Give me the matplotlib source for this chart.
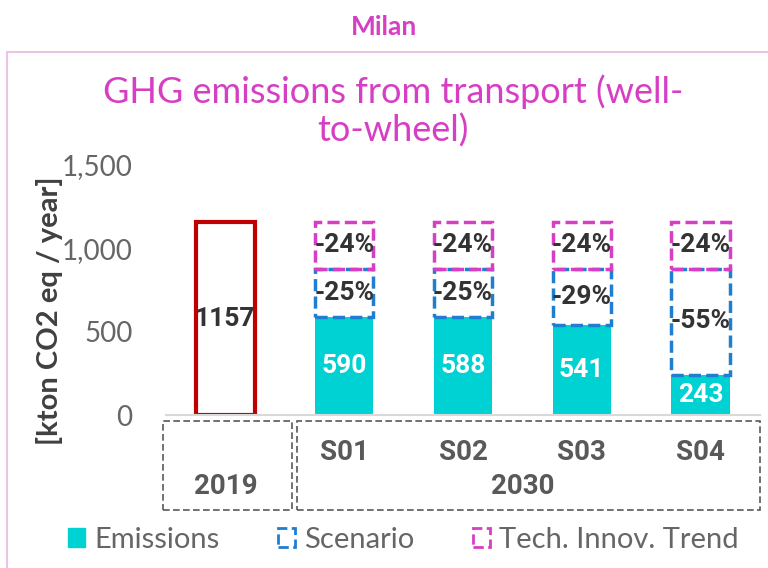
import matplotlib
matplotlib.use("Agg")
import matplotlib.pyplot as plt
from matplotlib.patches import Patch, Rectangle
import numpy as np

# data
categories = ["2019", "S01", "S02", "S03", "S04"]
groups = ["2019", "2030"]
baseline = 1157
emissions = [590, 588, 541, 243]
scenario = [289, 291, 338, 636]
tech = [278, 278, 278, 278]
scenario_lbl = ["-25%", "-25%", "-29%", "-55%"]
tech_lbl = ["-24%", "-24%", "-24%", "-24%"]

CYAN = "#00D2D3"
BLUE = "#1F7ED0"
MAGENTA = "#D63FC4"
RED = "#C00000"
GRAY = "#595959"
COND = ["Roboto", "DejaVu Sans"]
LIGHT = ["Lato", "DejaVu Sans"]

plt.rcParams["font.family"] = LIGHT

fig = plt.figure(figsize=(7.68, 5.68), dpi=100)
ax = fig.add_axes([166 / 768, 153 / 568, 594 / 768, 250 / 568])

x = np.arange(len(categories))
w = 0.49
lbl = dict(ha="center", va="center", fontsize=19, fontweight="bold", family=COND)

# 2019 bar
ax.bar(x[0], baseline, w, fill=False, edgecolor=RED, linewidth=3)
ax.text(x[0], baseline / 2, str(baseline), color="#333333", **lbl)

# 2030 stacked bars
xs = x[1:]
em = np.array(emissions)
sc = np.array(scenario)
te = np.array(tech)
ax.bar(xs, em, w, color=CYAN, linewidth=0)
ax.bar(xs, sc, w, bottom=em, fill=False, edgecolor=BLUE, linestyle=(0, (3.5, 1.5)), linewidth=2.5)
ax.bar(xs, te, w, bottom=em + sc, fill=False, edgecolor=MAGENTA, linestyle=(0, (3.5, 1.5)), linewidth=2.5)

for i, xi in enumerate(xs):
    ax.text(xi, em[i] / 2, str(emissions[i]), color="white", **lbl)
    ax.text(xi, em[i] + sc[i] / 2, scenario_lbl[i], color="#333333", **lbl)
    ax.text(xi, em[i] + sc[i] + te[i] / 2, tech_lbl[i], color="#333333", **lbl)

ax.set_xlim(-0.5, 4.5)
ax.set_ylim(0, 1500)
ax.set_yticks([0, 500, 1000, 1500])
ax.set_yticklabels(["0", "500", "1,000", "1,500"])
ax.tick_params(axis="y", length=0, labelsize=20, labelcolor="#666666", pad=24)
ax.set_xticks([])
for s in ["top", "right", "left"]:
    ax.spines[s].set_visible(False)
ax.spines["bottom"].set_color("#D9D9D9")
ax.spines["bottom"].set_linewidth(1.5)

# category boxes
tr = ax.get_xaxis_transform()
ax.add_patch(Rectangle((-0.525, -0.38), 1.085, 0.356, transform=tr, fill=False,
                       edgecolor="#595959", linestyle=(0, (4, 2)), linewidth=1.2, clip_on=False))
ax.add_patch(Rectangle((0.603, -0.38), 3.897, 0.356, transform=tr, fill=False,
                       edgecolor="#595959", linestyle=(0, (4, 2)), linewidth=1.2, clip_on=False))
cat = dict(lbl, color=GRAY, fontsize=20, transform=tr)
for xi, c in zip(xs, categories[1:]):
    ax.text(xi, -0.152, c, **cat)
ax.text(x[0], -0.288, groups[0], **cat)
ax.text(xs.mean(), -0.288, groups[1], **cat)

# outer frame and titles
fig.patches.append(Rectangle((7 / 768, -0.1), 1.2, (568 - 52) / 568 + 0.1,
                             transform=fig.transFigure, fill=False,
                             edgecolor="#EBC3E6", linewidth=1.5))
fig.text(0.5, 1 - 27 / 568, "Milan", ha="center", va="center",
         fontsize=19, fontweight="bold", color=MAGENTA)
fig.text(0.512, 1 - 111 / 568, "GHG emissions from transport (well-\nto-wheel)",
         ha="center", va="center", fontsize=26, color=MAGENTA, linespacing=1.18)
fig.text(50 / 768, 1 - 311 / 568, "[kton CO2 eq / year]", rotation=90,
         ha="center", va="center", fontsize=21, fontweight="bold", color="#404040")

handles = [Patch(facecolor=CYAN, edgecolor=CYAN),
           Patch(fill=False, edgecolor=BLUE, linestyle="--", linewidth=2),
           Patch(fill=False, edgecolor=MAGENTA, linestyle="--", linewidth=2)]
fig.legend(handles, ["Emissions", "Scenario", "Tech. Innov. Trend"],
           loc="center", bbox_to_anchor=(0.525, 1 - 540 / 568), ncol=3,
           frameon=False, fontsize=21, labelcolor="#666666",
           handlelength=0.6, handleheight=0.6, handletextpad=0.3, columnspacing=2.0)

plt.savefig("out.png", dpi=100)
